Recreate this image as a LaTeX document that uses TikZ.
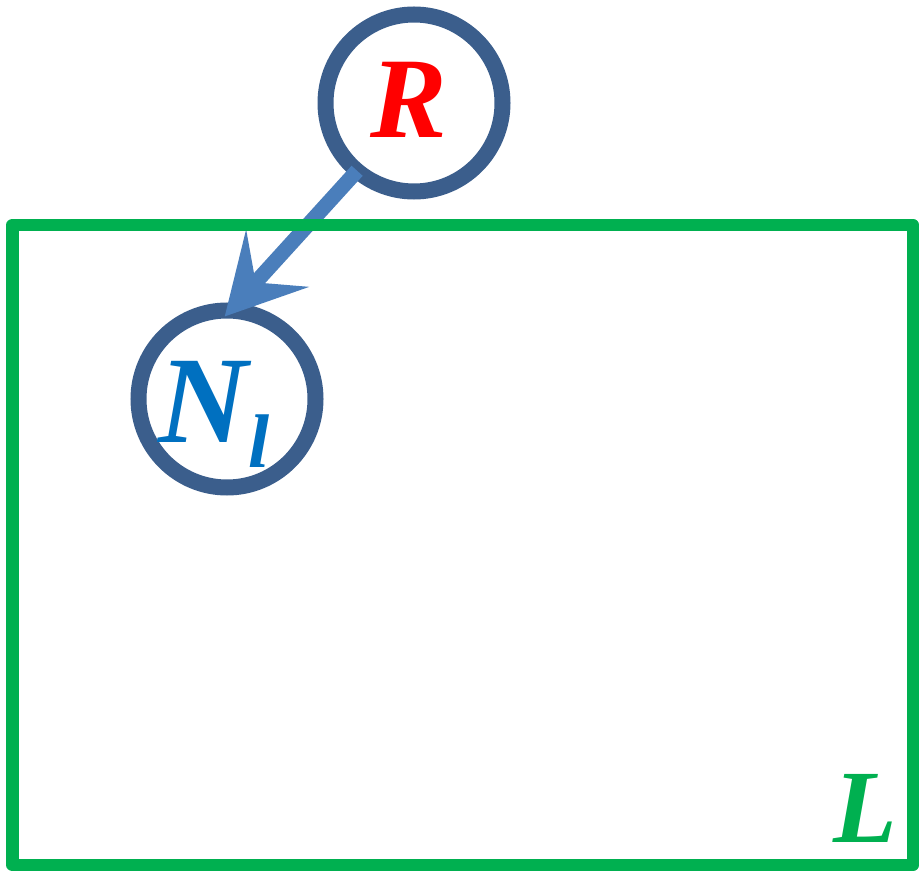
\documentclass[tikz,border=0pt]{standalone}
\usepackage{fontspec}
\setmainfont{Liberation Serif}
\usetikzlibrary{arrows.meta}
\definecolor{framegreen}{HTML}{00B050}
\definecolor{ringblue}{HTML}{3B5E8C}
\definecolor{arrowblue}{HTML}{4A7EBB}
\definecolor{nameblue}{HTML}{0070C0}

\begin{document}
\begin{tikzpicture}[x=1pt,y=-1pt,
  ring/.style={circle,draw=ringblue,line width=16pt,minimum size=177pt,inner sep=0pt,outer sep=0pt},
  letter/.style={anchor=base,inner sep=0pt}]
\useasboundingbox (0,0) rectangle (920,874);
% the two circles
\node[ring] (R) at (414,103) {};
\node[ring] (Nl) at (227,399) {};
\node[letter,text=red,font=\fontsize{115}{115}\selectfont\bfseries\itshape] (Rname) at (409,138) {R};
\node[letter,text=nameblue,font=\fontsize{124}{124}\selectfont\bfseries\itshape] (Nname) at (214,442)
  {N\raisebox{-25pt}{\fontsize{76}{76}\selectfont l}};
% arrow from R down to N_l
\draw[arrowblue,line width=15pt,-{Stealth[length=78pt,width=84pt,inset=32pt]},shorten >=-8pt] (R.230) -- (Nl.88);
% frame L
\draw[framegreen,line width=12.5pt,line join=round] (12.5,225) rectangle (913,865);
\node[letter,text=framegreen,font=\fontsize{104}{104}\selectfont\bfseries\itshape] (Lname) at (865,842) {L};
\end{tikzpicture}
\end{document}
